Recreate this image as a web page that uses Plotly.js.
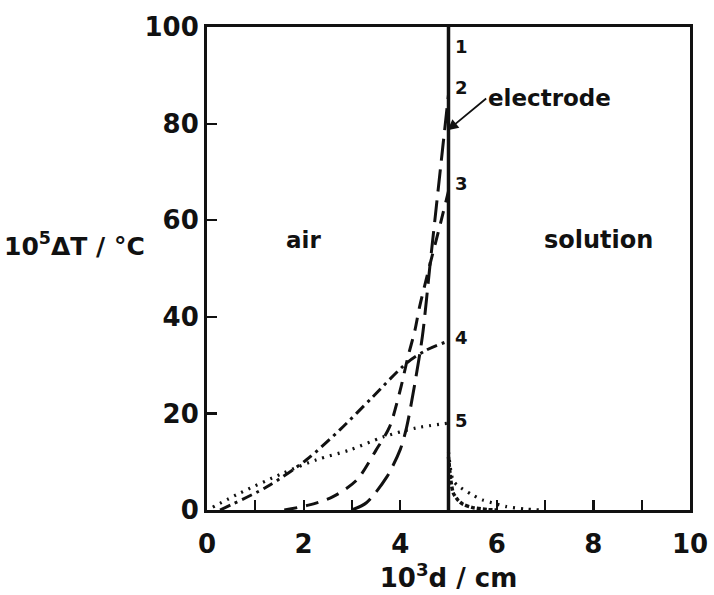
<!DOCTYPE html>
<html>
<head>
<meta charset="utf-8">
<script src="https://cdn.plot.ly/plotly-3.0.1.min.js"></script>
<style>
  html, body { margin: 0; padding: 0; background: #fff; }
  #chart { width: 714px; height: 595px; }
</style>
</head>
<body>
<div id="chart"></div>
<script>
// Temperature rise profiles either side of the electrode (at d = 5e-3 cm)
// Curve 1: the electrode itself
const c1X = [5, 5];
const c1Y = [0, 100];

// Curve 2 (air side), long dashes
const c2X = [3.0, 3.3, 3.72, 4.0, 4.13, 4.3, 4.46, 4.62, 4.75, 4.88, 5.0];
const c2Y = [0, 1.5, 6.8, 12.5, 17, 26, 36, 51, 63, 75, 86];

// Curve 3 (air side), medium dashes
const c3X = [1.6, 2.1, 2.6, 3.1, 3.5, 3.78, 4.0, 4.16, 4.3, 4.4, 4.62, 4.8, 5.0];
const c3Y = [0, 1, 2.7, 6.2, 12.4, 17.2, 24.8, 31.7, 37, 42, 51, 58, 66];

// Curve 4, dash-dot: air side and solution side
const c4X = [0.27, 1.24, 2.06, 2.75, 3.43, 4.13, 4.54, 5.0];
const c4Y = [0, 4.8, 10.4, 16.6, 23.4, 30.4, 33.1, 35];
const c4sX = [5.0, 5.05, 5.1, 5.2, 5.3, 5.5, 5.8, 6.0];
const c4sY = [11, 6, 3.5, 2, 1.2, 0.5, 0.1, 0];

// Curve 5, dotted: air side and solution side
const c5X = [0.12, 0.68, 1.57, 2.27, 2.95, 3.64, 4.34, 5.0];
const c5Y = [0.6, 3.5, 7.6, 10.4, 12.4, 15.1, 17, 18];
const c5sX = [5.0, 5.05, 5.1, 5.2, 5.3, 5.5, 5.7, 5.9, 6.2, 6.6, 6.9];
const c5sY = [12, 8, 6, 5, 4.3, 3.1, 2.1, 1.5, 0.7, 0.2, 0];

// Curve labels
const labelText = ['1', '2', '3', '4', '5'];
const labelY = [96, 87.5, 67.5, 35.8, 18.6];

const xTicks = [0, 2, 4, 6, 8, 10];
const yTicks = [0, 20, 40, 60, 80, 100];

const FONT = 'DejaVu Sans, Arial, sans-serif';
const INK = '#111';

function curve(x, y, dash, width) {
  return {
    x: x, y: y, type: 'scatter', mode: 'lines',
    line: { color: INK, width: width, dash: dash, shape: 'spline', smoothing: 0.8 },
    hoverinfo: 'skip'
  };
}

const data = [
  curve(c5X, c5Y, '2px,6px', 3.2),
  curve(c5sX, c5sY, '2px,6px', 3.2),
  curve(c4X, c4Y, '11px,5px,3px,5px', 3),
  curve(c4sX, c4sY, '4px,2px', 3.5),
  curve(c3X, c3Y, '13px,9px', 3),
  curve(c2X, c2Y, '22px,9px', 3),
  curve(c1X, c1Y, 'solid', 3.5)
];

const bold = (size) => ({ family: FONT, size: size, color: INK, weight: 'bold' });

const annotations = labelText.map((t, i) => ({
  x: 5.1, y: labelY[i], xref: 'x', yref: 'y', text: t,
  showarrow: false, xanchor: 'left', yanchor: 'middle',
  font: bold(18)
}));

annotations.push(
  // label with an arrow pointing at the electrode surface
  { x: 4.98, y: 78.6, xref: 'x', yref: 'y', ax: 5.78, ay: 85.2, axref: 'x', ayref: 'y',
    text: 'electrode', xanchor: 'left', yanchor: 'middle',
    showarrow: true, arrowhead: 2, arrowsize: 1.2, arrowwidth: 1.8, arrowcolor: INK,
    standoff: 0, startstandoff: 0, font: bold(23) },
  { x: 2.0, y: 56, xref: 'x', yref: 'y', text: 'air', showarrow: false, font: bold(23) },
  { x: 8.1, y: 56, xref: 'x', yref: 'y', text: 'solution', showarrow: false, font: bold(24) },
  { x: -0.424, y: 0.55, xref: 'paper', yref: 'paper', text: '10<sup>5</sup>ΔT / °C',
    showarrow: false, xanchor: 'left', yanchor: 'middle', font: bold(25) }
);

const layout = {
  width: 714, height: 595,
  margin: { l: 207, r: 24, t: 27, b: 85 },
  paper_bgcolor: '#fff', plot_bgcolor: '#fff',
  showlegend: false,
  xaxis: {
    range: [0, 10], showgrid: false, zeroline: false,
    showline: true, linewidth: 3, linecolor: INK, mirror: true,
    ticks: 'inside', ticklen: 10, tickwidth: 2.2, tickcolor: INK,
    tickmode: 'array', tickvals: xTicks, ticktext: xTicks.map(String),
    ticklabelstandoff: 9,
    minor: { ticks: 'inside', dtick: 1, ticklen: 10, tickwidth: 2.2, tickcolor: INK, showgrid: false },
    tickfont: bold(26),
    title: { text: '10<sup>3</sup>d / cm', font: bold(26), standoff: 11 }
  },
  yaxis: {
    range: [0, 100], showgrid: false, zeroline: false,
    showline: true, linewidth: 3, linecolor: INK, mirror: true,
    ticks: 'inside', ticklen: 10, tickwidth: 2.2, tickcolor: INK,
    tickmode: 'array', tickvals: yTicks, ticktext: yTicks.map(String),
    tickfont: bold(26)
  },
  annotations: annotations
};

Plotly.newPlot('chart', data, layout, { displayModeBar: false, staticPlot: true });
</script>
</body>
</html>
